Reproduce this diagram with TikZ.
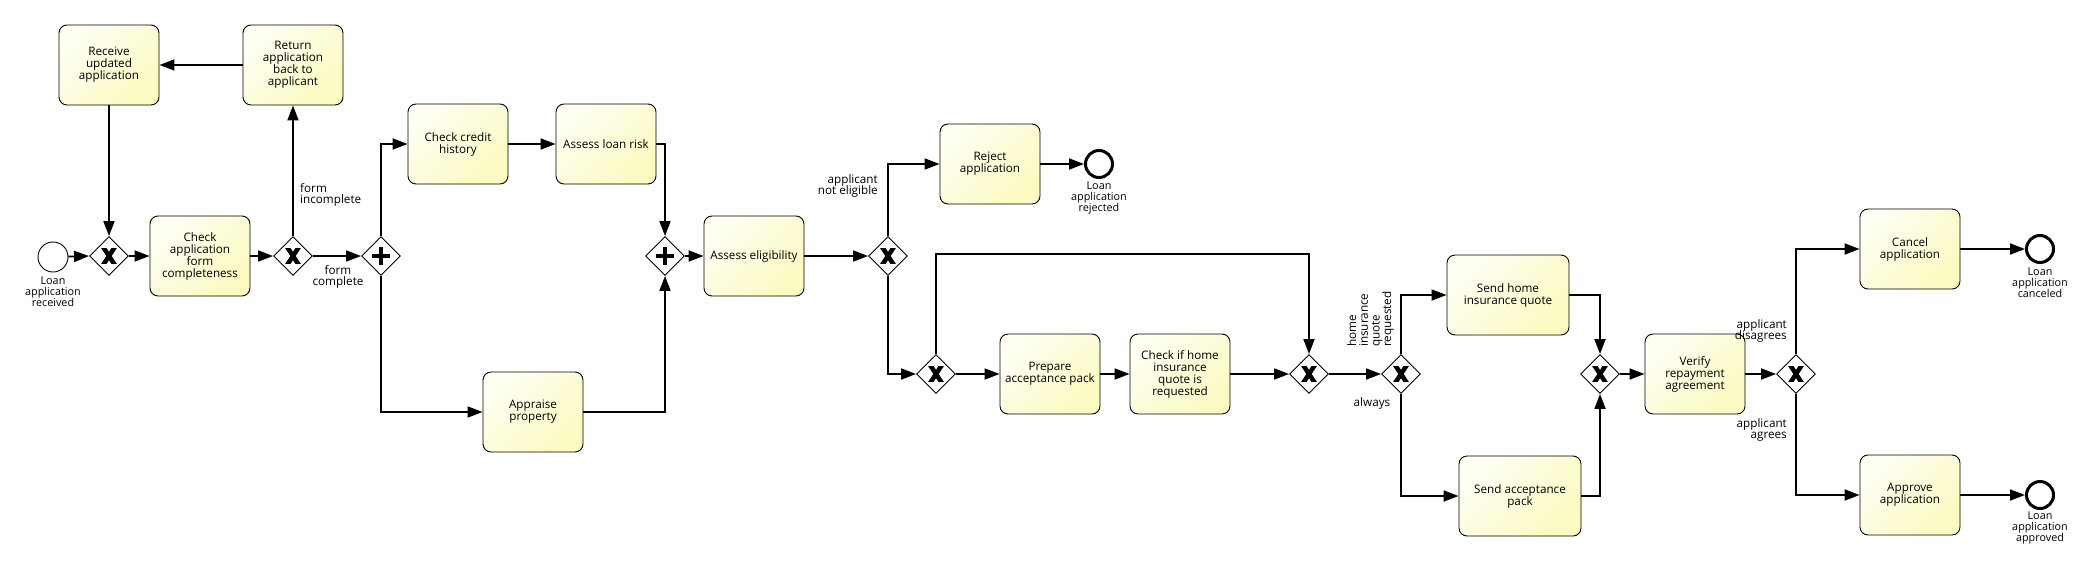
\documentclass[tikz,border=0pt]{standalone}
\usepackage{fontspec}
\setmainfont{Open Sans}
\usetikzlibrary{arrows.meta,shapes.geometric}
\definecolor{taskfill}{HTML}{FBFAC0}
\definecolor{tasktop}{HTML}{FFFFF4}
\begin{document}
\begin{tikzpicture}[x=1pt,y=-1pt,
  task/.style={rectangle, rounded corners=8pt, draw=black, line width=0.9pt,
    minimum width=100pt, minimum height=80pt, align=center, inner sep=1pt,
    top color=tasktop, bottom color=taskfill, shading angle=45,
    font=\fontsize{11.7}{12}\selectfont},
  widetask/.style={task, minimum width=122pt},
  gateway/.style={diamond, draw=black, line width=0.9pt, fill=white,
    minimum width=39pt, minimum height=39pt, inner sep=0pt},
  gwx/.style={gateway, path picture={
    \begin{scope}[shift={(path picture bounding box.center)}]
      \fill[black] (-7.8,-7.8) -- (-2.4,-7.8) -- (7.8,7.8) -- (2.4,7.8) -- cycle;
      \fill[black] (7.8,-7.8) -- (2.4,-7.8) -- (-7.8,7.8) -- (-2.4,7.8) -- cycle;
    \end{scope}}},
  gwp/.style={gateway, path picture={
    \begin{scope}[shift={(path picture bounding box.center)}]
      \draw[black, line width=3.2pt] (-9,0) -- (9,0) (0,-9) -- (0,9);
    \end{scope}}},
  startev/.style={circle, draw=black, line width=0.9pt, fill=white,
    minimum size=30pt, inner sep=0pt},
  endev/.style={circle, draw=black, line width=3pt, fill=white,
    minimum size=27pt, inner sep=0pt},
  conn/.style={line width=1.8pt, -{Triangle[length=15pt,width=11pt]}},
  lbl/.style={inner sep=0pt, font=\fontsize{11.7}{11.7}\selectfont},
  evlbl/.style={inner sep=0pt, align=center, font=\fontsize{10.8}{11}\selectfont}
]
\fill[white] (0,0) rectangle (2094,571);
\useasboundingbox (0,0) rectangle (2094,571);

% nodes
\node[startev] (start) at (53,257) {};
\node[evlbl] (startlbl) at (53,292) {Loan\\application\\received};
\node[gwx] (gx1) at (109,256) {};
\node[task] (receive) at (109,65) {Receive\\updated\\application};
\node[task] (return) at (293,65) {Return\\application\\back to\\applicant};
\node[task] (checkform) at (200,256) {Check\\application\\form\\completeness};
\node[gwx] (gx2) at (293,256) {};
\node[gwp] (gp1) at (381,256) {};
\node[task] (credit) at (458,144) {Check credit\\history};
\node[task] (risk) at (606,144) {Assess loan risk};
\node[task] (appraise) at (533,412) {Appraise\\property};
\node[gwp] (gp2) at (665,256) {};
\node[task] (elig) at (754,256) {Assess eligibility};
\node[gwx] (gx3) at (888,256) {};
\node[task] (reject) at (990,164) {Reject\\application};
\node[endev] (endrej) at (1099,164) {};
\node[evlbl] (endrejlbl) at (1099,198) {Loan\\application\\rejected};
\node[gwx] (gx4) at (936,374) {};
\node[task] (prepare) at (1050,374) {Prepare\\acceptance pack};
\node[task] (checkhome) at (1180,374) {Check if home\\insurance\\quote is\\requested};
\node[gwx] (gx5) at (1309,374) {};
\node[gwx] (gx6) at (1401,374) {};
\node[widetask] (sendquote) at (1508,295) {Send home\\insurance quote};
\node[widetask] (sendpack) at (1520,496) {Send acceptance\\pack};
\node[gwx] (gx7) at (1600,374) {};
\node[task] (verify) at (1695,374) {Verify\\repayment\\agreement};
\node[gwx] (gx8) at (1796,374) {};
\node[task] (cancel) at (1910,249) {Cancel\\application};
\node[task] (approve) at (1910,495) {Approve\\application};
\node[endev] (endcan) at (2040,249) {};
\node[evlbl] (endcanlbl) at (2040,283) {Loan\\application\\canceled};
\node[endev] (endapp) at (2040,495) {};
\node[evlbl] (endapplbl) at (2040,528) {Loan\\application\\approved};
\coordinate (loop) at (1309,254);

% connectors
\draw[conn] (start) -- (gx1.west);
\draw[conn] (gx1.east) -- (checkform.west);
\draw[conn] (checkform.east) -- (gx2.west);
\draw[conn] (gx2.east) -- (gp1.west);
\draw[conn] (gx2.north) -- (return.south);
\draw[conn] (return.west) -- (receive.east);
\draw[conn] (receive.south) -- (gx1.north);
\draw[conn] (gp1.north) |- (credit.west);
\draw[conn] (gp1.south) |- (appraise.west);
\draw[conn] (credit.east) -- (risk.west);
\draw[conn] (risk.east) -| (gp2.north);
\draw[conn] (appraise.east) -| (gp2.south);
\draw[conn] (gp2.east) -- (elig.west);
\draw[conn] (elig.east) -- (gx3.west);
\draw[conn] (gx3.north) |- (reject.west);
\draw[conn] (reject.east) -- (endrej.west);
\draw[conn] (gx3.south) |- (gx4.west);
\draw[conn] (gx4.north) |- (loop) -- (gx5.north);
\draw[conn] (gx4.east) -- (prepare.west);
\draw[conn] (prepare.east) -- (checkhome.west);
\draw[conn] (checkhome.east) -- (gx5.west);
\draw[conn] (gx5.east) -- (gx6.west);
\draw[conn] (gx6.north) |- (sendquote.west);
\draw[conn] (gx6.south) |- (sendpack.west);
\draw[conn] (sendquote.east) -| (gx7.north);
\draw[conn] (sendpack.east) -| (gx7.south);
\draw[conn] (gx7.east) -- (verify.west);
\draw[conn] (verify.east) -- (gx8.west);
\draw[conn] (gx8.north) |- (cancel.west);
\draw[conn] (gx8.south) |- (approve.west);
\draw[conn] (cancel.east) -- (endcan.west);
\draw[conn] (approve.east) -- (endapp.west);

% flow labels
\node[lbl, anchor=west, align=left] (lincomplete) at (300,195) {form\\incomplete};
\node[lbl, align=center] (lcomplete) at (338,277) {form\\complete};
\node[lbl, anchor=east, align=right] (lnotelig) at (878,186) {applicant\\not eligible};
\node[lbl, rotate=90, anchor=north west, align=left] (lquote) at (1347,347) {home\\insurance\\quote\\requested};
\node[lbl] (lalways) at (1372,403) {always};
\node[lbl, anchor=east, align=right] (ldisagree) at (1787,331) {applicant\\disagrees};
\node[lbl, anchor=east, align=right] (lagree) at (1787,430) {applicant\\agrees};
\end{tikzpicture}
\end{document}
